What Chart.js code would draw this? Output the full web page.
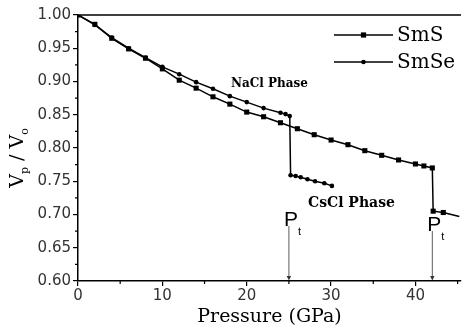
<!DOCTYPE html>
<html>
<head>
<meta charset="utf-8">
<script src="https://cdn.jsdelivr.net/npm/chart.js@4.4.0/dist/chart.umd.min.js"></script>
<style>
html, body { margin: 0; padding: 0; background: #fff; }
</style>
</head>
<body>
<canvas id="myChart" width="465" height="331"></canvas>
<script>
// SmS: NaCl phase up to 42 GPa, then drop to CsCl phase
const smsPressure = [0, 2, 4, 6, 8, 10, 12, 14, 16, 18, 20, 22, 24, 26, 28, 30, 32, 34, 36, 38, 40, 41, 42, 42.1, 43.3, 45.2];
const smsVolume   = [1.000, 0.986, 0.965, 0.949, 0.935, 0.919, 0.902, 0.890, 0.877, 0.866, 0.854, 0.847, 0.838, 0.829, 0.820, 0.812, 0.805, 0.796, 0.789, 0.782, 0.776, 0.773, 0.770, 0.705, 0.703, 0.697];

// SmSe: NaCl phase up to 25 GPa, then drop to CsCl phase
const smsePressure = [0, 2, 4, 6, 8, 10, 12, 14, 16, 18, 20, 22, 24, 24.6, 25.1, 25.2, 25.8, 26.4, 27.2, 28.1, 29.2, 30.1];
const smseVolume   = [1.000, 0.985, 0.966, 0.950, 0.936, 0.922, 0.911, 0.899, 0.889, 0.878, 0.869, 0.860, 0.853, 0.851, 0.848, 0.759, 0.758, 0.756, 0.753, 0.750, 0.747, 0.743];

const seriesNames = ['SmS', 'SmSe'];
const transitionPressure = [25, 42];

const xTickValues = [0, 10, 20, 30, 40];
const xTickLabels = ['0', '10', '20', '30', '40'];
const xMinorTicks = [5, 15, 25, 35, 45];
const yTickValues = [0.60, 0.65, 0.70, 0.75, 0.80, 0.85, 0.90, 0.95, 1.00];
const yTickLabels = ['0.60', '0.65', '0.70', '0.75', '0.80', '0.85', '0.90', '0.95', '1.00'];
const yMinorTicks = [0.625, 0.675, 0.725, 0.775, 0.825, 0.875, 0.925, 0.975];

function toPoints(xs, ys) {
    return xs.map(function (v, i) { return { x: v, y: ys[i] }; });
}

function drawMarker(ctx, style, x, y) {
    ctx.fillStyle = '#000';
    if (style === 'rect') {
        ctx.fillRect(x - 2.6, y - 2.6, 5.2, 5.2);
    } else {
        ctx.beginPath();
        ctx.arc(x, y, 2.3, 0, Math.PI * 2);
        ctx.fill();
    }
}

const decorPlugin = {
    id: 'decor',
    afterDraw(chart) {
        const ctx = chart.ctx;
        const a = chart.chartArea;
        const xs = chart.scales.x;
        const ys = chart.scales.y;
        ctx.save();

        // top frame line
        ctx.strokeStyle = '#000';
        ctx.lineWidth = 1.5;
        ctx.beginPath();
        ctx.moveTo(a.left, a.top);
        ctx.lineTo(a.right, a.top);
        ctx.stroke();

        // minor ticks
        ctx.lineWidth = 1.2;
        ctx.beginPath();
        yMinorTicks.forEach(function (v) {
            const py = ys.getPixelForValue(v);
            ctx.moveTo(a.left - 3, py);
            ctx.lineTo(a.left, py);
        });
        xMinorTicks.forEach(function (v) {
            const px = xs.getPixelForValue(v);
            ctx.moveTo(px, a.bottom);
            ctx.lineTo(px, a.bottom + 3);
        });
        ctx.stroke();

        // legend
        const styles = ['rect', 'circle'];
        seriesNames.forEach(function (name, i) {
            const ly = 35 + i * 27;
            ctx.strokeStyle = '#000';
            ctx.lineWidth = 1.5;
            ctx.beginPath();
            ctx.moveTo(334, ly);
            ctx.lineTo(393, ly);
            ctx.stroke();
            drawMarker(ctx, styles[i], 363.5, ly);
            ctx.fillStyle = '#000';
            ctx.font = '20px "DejaVu Serif"';
            ctx.textBaseline = 'middle';
            ctx.textAlign = 'left';
            ctx.fillText(name, 397, ly + 1);
        });

        // phase labels
        ctx.fillStyle = '#000';
        ctx.textBaseline = 'middle';
        ctx.font = 'bold 12px "DejaVu Serif"';
        ctx.fillText('NaCl Phase', 231, 84);
        ctx.font = 'bold 14px "DejaVu Serif"';
        ctx.fillText('CsCl Phase', 308, 203);

        // transition pressure arrows
        const labelTop = [226, 231];
        transitionPressure.forEach(function (p, i) {
            const px = xs.getPixelForValue(p);
            ctx.strokeStyle = '#333';
            ctx.fillStyle = '#333';
            ctx.lineWidth = 0.8;
            ctx.beginPath();
            ctx.moveTo(px, labelTop[i]);
            ctx.lineTo(px, a.bottom - 4);
            ctx.stroke();
            ctx.beginPath();
            ctx.moveTo(px - 2.2, a.bottom - 5);
            ctx.lineTo(px + 2.2, a.bottom - 5);
            ctx.lineTo(px, a.bottom - 0.5);
            ctx.closePath();
            ctx.fill();

            ctx.fillStyle = '#000';
            ctx.textBaseline = 'alphabetic';
            ctx.font = '21px "Liberation Sans"';
            ctx.fillText('P', px - 5, labelTop[i] - 0.5);
            ctx.font = '11px "Liberation Sans"';
            ctx.fillText('t', px + 9, labelTop[i] + 9);
        });

        // y axis title  V_p / V_o
        ctx.translate(23, 158);
        ctx.rotate(-Math.PI / 2);
        const big = '19px "DejaVu Serif"';
        const small = '11px "DejaVu Serif"';
        const parts = [['V', big, 0], ['p', small, 5], [' / ', big, 0], ['V', big, 0], ['o', small, 5]];
        let total = 0;
        parts.forEach(function (p) { ctx.font = p[1]; total += ctx.measureText(p[0]).width; });
        let cx = -total / 2;
        ctx.fillStyle = '#000';
        ctx.textAlign = 'left';
        ctx.textBaseline = 'alphabetic';
        parts.forEach(function (p) {
            ctx.font = p[1];
            ctx.fillText(p[0], cx, p[2]);
            cx += ctx.measureText(p[0]).width;
        });
        ctx.restore();
    }
};

document.addEventListener("DOMContentLoaded", function () {
    let ctx = document.getElementById('myChart').getContext('2d');

    new Chart(ctx, {
        type: 'scatter',
        data: {
            datasets: [
                {
                    label: seriesNames[0],
                    data: toPoints(smsPressure, smsVolume),
                    showLine: true,
                    borderColor: '#000',
                    backgroundColor: '#000',
                    borderWidth: 1.5,
                    pointStyle: 'rect',
                    pointRadius: function (c) { return c.dataIndex === smsPressure.length - 1 ? 0 : 3.6; },
                    pointBorderWidth: 0,
                },
                {
                    label: seriesNames[1],
                    data: toPoints(smsePressure, smseVolume),
                    showLine: true,
                    borderColor: '#000',
                    backgroundColor: '#000',
                    borderWidth: 1.5,
                    pointStyle: 'circle',
                    pointRadius: 2.3,
                    pointBorderWidth: 0,
                }
            ]
        },
        options: {
            responsive: false,
            animation: false,
            devicePixelRatio: 1,
            layout: { padding: { top: 15, right: 0, left: 0, bottom: 0 } },
            plugins: {
                legend: { display: false },
                tooltip: { enabled: false },
            },
            scales: {
                x: {
                    type: 'linear',
                    min: 0,
                    max: 45.4,
                    afterBuildTicks: function (s) { s.ticks = xTickValues.map(function (v) { return { value: v }; }); },
                    afterFit: function (s) { s.height = 50; },
                    ticks: {
                        padding: 1,
                        color: '#333',
                        font: { family: 'DejaVu Sans', size: 15 },
                        callback: function (v) { return xTickLabels[xTickValues.indexOf(v)]; }
                    },
                    grid: { drawOnChartArea: false, color: '#000', tickLength: 5, lineWidth: 1.2 },
                    border: { color: '#000', width: 1.5 },
                    title: {
                        display: true,
                        text: 'Pressure (GPa)',
                        color: '#000',
                        font: { family: 'DejaVu Serif', size: 19 },
                        padding: { top: 3, bottom: 3 }
                    }
                },
                y: {
                    type: 'linear',
                    min: 0.6,
                    max: 1.0,
                    afterBuildTicks: function (s) { s.ticks = yTickValues.map(function (v) { return { value: v }; }); },
                    afterFit: function (s) { s.width = 78; },
                    ticks: {
                        padding: 2,
                        color: '#333',
                        font: { family: 'DejaVu Sans', size: 15 },
                        callback: function (v) { return yTickLabels[yTickValues.indexOf(v)]; }
                    },
                    grid: { drawOnChartArea: false, color: '#000', tickLength: 5, lineWidth: 1.2 },
                    border: { color: '#000', width: 1.5 }
                }
            }
        },
        plugins: [decorPlugin]
    });
});
</script>
</body>
</html>
